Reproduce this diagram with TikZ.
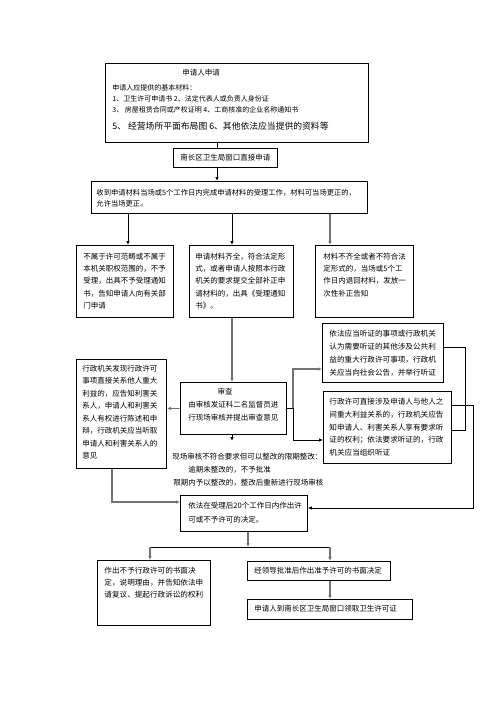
\documentclass[tikz,border=0pt]{standalone}
\usepackage{fontspec}
\newfontfamily\cjk{Noto Sans CJK SC}
\usetikzlibrary{arrows.meta}

\begin{document}
\begin{tikzpicture}[x=1pt,y=-1pt]
\tikzstyle{every path}=[line width=0.9pt]

\tikzstyle{fbox}=[draw,line width=0.9pt,inner sep=0pt,anchor=north west]
\tikzstyle{ftext}=[font=\cjk\fontsize{7.5}{12.5}\selectfont,align=left,anchor=north west,inner sep=0pt]
\tikzstyle{fline}=[font=\cjk\fontsize{7.5}{9}\selectfont,anchor=west,inner sep=0pt]
\tikzstyle{arr}=[-{Latex[length=4pt,width=3.5pt]}]
\tikzstyle{garr}=[arr,draw=black!55,line width=1.4pt]

\useasboundingbox (0,0) rectangle (496,702);

%% Draw application box
\node [fbox,minimum width=263pt,minimum height=79pt] at (105,63) (apply) {};
\node [fline,anchor=center] at (201,73) (applytitle) {申请人申请};
\node [fline,font=\cjk\fontsize{7}{9}\selectfont] at (112,88) (applyl1) {申请人应提供的基本材料：};
\node [fline,font=\cjk\fontsize{7}{9}\selectfont] at (112,99) (applyl2) {1、卫生许可申请书 2、法定代表人或负责人身份证};
\node [fline,font=\cjk\fontsize{7}{9}\selectfont] at (112,110) (applyl3) {3、\ 房屋租赁合同或产权证明 4、工商核准的企业名称通知书};
\node [fline,font=\cjk\fontsize{8.8}{10}\selectfont] at (112,126) (applyl4) {5、\ 经营场所平面布局图 6、其他依法应当提供的资料等};

%% Draw window and acceptance boxes
\node [fbox,minimum width=104pt,minimum height=19pt] at (173,148) (window) {};
\node [fline,anchor=center] at (window.center) (windowtxt) {南长区卫生局窗口直接申请};

\node [fbox,minimum width=276pt,minimum height=32pt] at (91,181) (accept) {};
\node [ftext,font=\cjk\fontsize{7.3}{11.5}\selectfont] at (96,188.5) (accepttxt) {收到申请材料当场或5个工作日内完成申请材料的受理工作，材料可当场更正的，\\允许当场更正。};

%% Draw three result boxes
\node [fbox,minimum width=97pt,minimum height=72pt] at (76,245) (nosp) {};
\node [ftext,font=\cjk\fontsize{7.5}{12.3}\selectfont] at (83,252.5) (nosptxt) {不属于许可范畴或不属于\\本机关职权范围的，不予\\受理，出具不予受理通知\\书，告知申请人向有关部\\门申请};

\node [fbox,minimum width=104pt,minimum height=72pt] at (189,245) (complete) {};
\node [ftext,font=\cjk\fontsize{7.5}{12.3}\selectfont] at (195,252.5) (completetxt) {申请材料齐全，符合法定形\\式，或者申请人按照本行政\\机关的要求提交全部补正申\\请材料的，出具《受理通知\\书》。};

\node [fbox,minimum width=98pt,minimum height=72pt] at (315,245) (incomplete) {};
\node [ftext,font=\cjk\fontsize{7.5}{12.3}\selectfont] at (323,252.5) (incompletetxt) {材料不齐全或者不符合法\\定形式的，当场或5个工\\作日内退回材料，发放一\\次性补正告知};

%% Draw review box
\node [fbox,minimum width=106pt,minimum height=52pt] at (180,382) (review) {};
\node [fline,anchor=center] at (225,392) (reviewtitle) {审查};
\node [ftext,font=\cjk\fontsize{7.5}{13}\selectfont] at (188,400.5) (reviewtxt) {由审核发证科二名监督员进\\行现场审核并提出审查意见};

%% Draw notice box on the left
\node [fbox,minimum width=90pt,minimum height=109pt] at (76,359) (notify) {};
\node [ftext,font=\cjk\fontsize{7.5}{12.5}\selectfont] at (82,364.5) (notifytxt) {行政机关发现行政许可\\事项直接关系他人重大\\利益的，应告知利害关\\系人，申请人和利害关\\系人有权进行陈述和申\\辩，行政机关应当听取\\申请人和利害关系人的\\意见};

%% Draw hearing boxes on the right
\node [fbox,minimum width=121pt,minimum height=59pt] at (322,323) (hearpub) {};
\node [ftext,font=\cjk\fontsize{7.6}{13}\selectfont] at (329,330) (hearpubtxt) {依法应当听证的事项或行政机关\\认为需要听证的其他涉及公共利\\益的重大行政许可事项，行政机\\关应当向社会公告，并举行听证};

\node [fbox,minimum width=128pt,minimum height=72pt] at (323,391) (hearparty) {};
\node [ftext,font=\cjk\fontsize{7.6}{12.7}\selectfont] at (329,398) (hearpartytxt) {行政许可直接涉及申请人与他人之\\间重大利益关系的，行政机关应告\\知申请人、利害关系人享有要求听\\证的权利；依法要求听证的，行政\\机关应当组织听证};

%% Rectification notes
\node [fline] at (172,457) (rectify1) {现场审核不符合要求但可以整改的限期整改：};
\node [fline] at (188,469.5) (rectify2) {逾期未整改的，不予批准};
\node [fline] at (173,483) (rectify3) {限期内予以整改的，整改后重新进行现场审核};

%% Draw decision box
\node [fbox,minimum width=127pt,minimum height=36pt] at (180,495) (decide) {};
\node [ftext,font=\cjk\fontsize{7.5}{14}\selectfont] at (188,501.5) (decidetxt) {依法在受理后20个工作日内作出许\\可或不予许可的决定。};

%% Draw final boxes
\node [fbox,minimum width=113pt,minimum height=65pt] at (97,560) (refuse) {};
\node [ftext,font=\cjk\fontsize{7.6}{12}\selectfont] at (104,566.5) (refusetxt) {作出不予行政许可的书面决\\定，说明理由，并告知依法申\\请复议、提起行政诉讼的权利};

\node [fbox,minimum width=143pt,minimum height=19pt] at (247,561) (grant) {};
\node [fline] at (254,570.5) (granttxt) {经领导批准后作出准予许可的书面决定};

\node [fbox,minimum width=165pt,minimum height=20pt] at (247,599) (collect) {};
\node [fline] at (254,609) (collecttxt) {申请人到南长区卫生局窗口领取卫生许可证};

%% Connector columns and rows
\coordinate (cmain) at (217,0);
\coordinate (cnosp) at (128,0);
\coordinate (cmid) at (232,0);
\coordinate (cright) at (330,0);
\coordinate (cleft) at (112,0);
\coordinate (rdec) at (0,502);
\coordinate (rtip) at (232,441);
\coordinate (forkup) at (293,369);
\coordinate (forkdn) at (293,440);
\coordinate (pa) at (465,347);
\coordinate (pb) at (465,430);
\coordinate (qa) at (473,405);
\coordinate (qb) at (473,508);
\coordinate (split) at (248,547);
\coordinate (sl) at (150,547);
\coordinate (sr) at (330,547);

%% Connectors
\draw (apply.south -| cmain) -- (window.north -| cmain);
\draw [arr] (window.south -| cmain) -- (accept.north -| cmain);
\draw [arr] (accept.south -| cnosp) -- (nosp.north -| cnosp);
\draw [arr] (accept.south -| cmid) -- (complete.north -| cmid);
\draw [garr] (accept.south -| cright) -- (incomplete.north -| cright);
\draw [garr] (complete.south -| cmid) -- (review.north -| cmid);
\draw [garr] (review.west) -- (review.west -| notify.east);
\draw [arr] (review.south -| cmid) -- (rtip);
\draw [garr] (notify.south -| cleft) |- (decide.west |- rdec);

\draw (review.east) -- (review.east -| forkup);
\draw [garr] (review.east -| forkup) -- (forkup) -- (forkup -| hearpub.west);
\draw [arr] (review.east -| forkup) -- (forkdn) -- (forkdn -| hearparty.west);
\draw (pa -| hearpub.east) -- (pa) -- (pb) -- (pb -| hearparty.east);
\draw [arr] (qa -| hearparty.east) -- (qa) -- (qb) -- (qb -| decide.east);

\draw [garr] (decide.south -| split) -- (split);
\draw (sl) -- (sr);
\draw [garr] (sl) -- (sl |- refuse.north);
\draw [garr] (sr) -- (sr |- grant.north);
\draw [garr] (grant.south -| sr) -- (collect.north -| sr);
\end{tikzpicture}
\end{document}
